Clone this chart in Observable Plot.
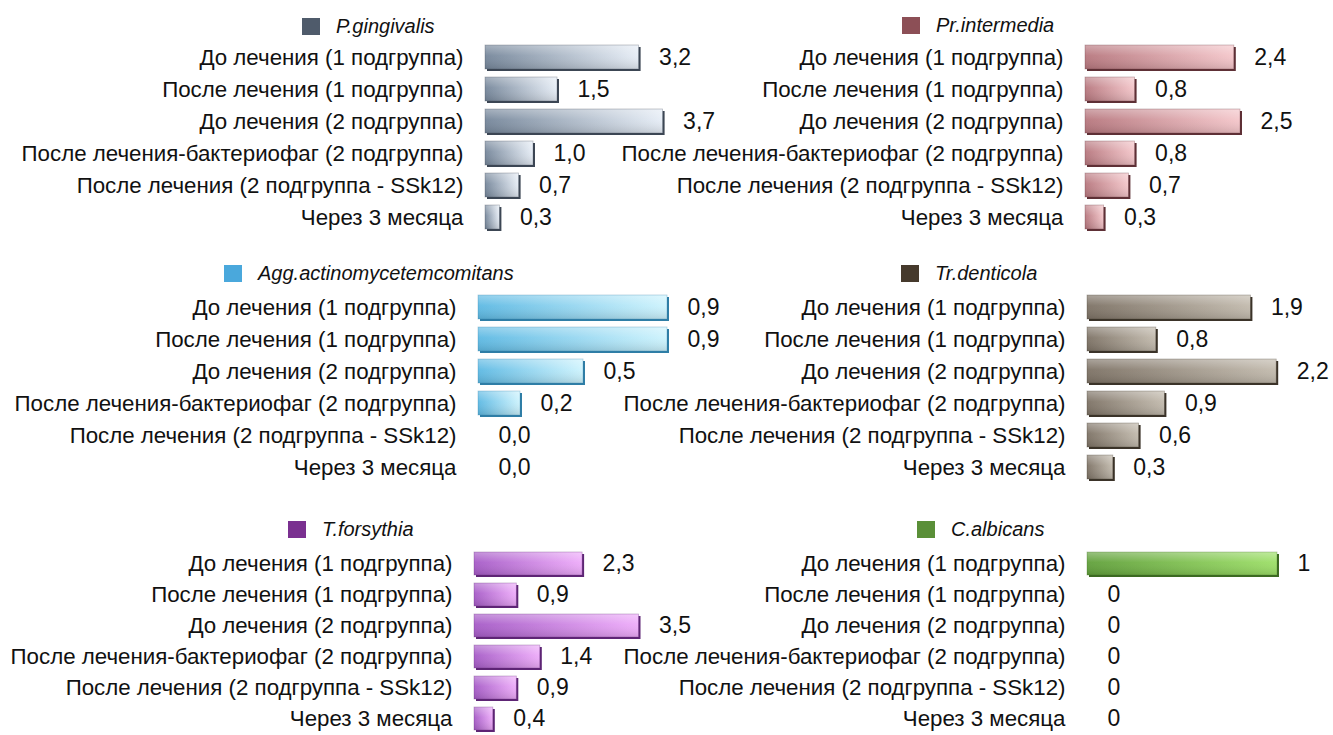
<!DOCTYPE html>
<html>
<head>
<meta charset="utf-8">
<script src="https://cdn.jsdelivr.net/npm/d3@7"></script>
<script src="https://cdn.jsdelivr.net/npm/@observablehq/plot@0.6"></script>
<style>
  html, body { margin: 0; padding: 0; background: #fff; }
  #root { position: relative; width: 1333px; height: 735px; overflow: hidden; font-family: "Liberation Sans", Arial, Helvetica, sans-serif; }
  .panel { position: absolute; width: 900px; }
  .panel svg { max-width: none !important; background: transparent; overflow: visible; }
  .legend { position: absolute; display: flex; align-items: center; font-style: italic; font-size: 20px; color: #111; white-space: nowrap; }
  .legend .sw { width: 18px; height: 17px; margin-right: 16px; }
</style>
</head>
<body>
<div id="root"></div>
<script>
// ---- data ----
const categories = [
  "До лечения (1 подгруппа)",
  "После лечения (1 подгруппа)",
  "До лечения (2 подгруппа)",
  "После лечения-бактериофаг (2 подгруппа)",
  "После лечения (2 подгруппа - SSk12)",
  "Через 3 месяца"
];
const species = ["P.gingivalis", "Pr.intermedia", "Agg.actinomycetemcomitans", "Tr.denticola", "T.forsythia", "C.albicans"];
const pGingivalis = [3.2, 1.5, 3.7, 1.0, 0.7, 0.3];
const prIntermedia = [2.4, 0.8, 2.5, 0.8, 0.7, 0.3];
const aggActinomycetemcomitans = [0.9, 0.9, 0.5, 0.2, 0.0, 0.0];
const trDenticola = [1.9, 0.8, 2.2, 0.9, 0.6, 0.3];
const tForsythia = [2.3, 0.9, 3.5, 1.4, 0.9, 0.4];
const cAlbicans = [1, 0, 0, 0, 0, 0];
const seriesValues = [pGingivalis, prIntermedia, aggActinomycetemcomitans, trDenticola, tForsythia, cAlbicans];
const decimals = [1, 1, 1, 1, 1, 0];

// ---- styling / layout (not data) ----
const palette = [
  {legend: "#4f5b6b", dark: "#75869a", light: "#e6edf6", edge: "#3c4654"},
  {legend: "#8c4f56", dark: "#b7777e", light: "#f4c6ca", edge: "#5e3036"},
  {legend: "#4aa8dc", dark: "#5db9e3", light: "#cdf3fd", edge: "#2f7ea6"},
  {legend: "#463a2c", dark: "#7d7265", light: "#c2baad", edge: "#3b3329"},
  {legend: "#7a3090", dark: "#a65bc7", light: "#eeacfa", edge: "#5e2575"},
  {legend: "#5a8f38", dark: "#61a03b", light: "#9ddf68", edge: "#3c6a22"}
];
const layout = [
  {left: 0,   top: 41,  height: 192, marginLeft: 485, xMax: 4,   plotW: 192, legend: [302, 18]},
  {left: 600, top: 41,  height: 192, marginLeft: 485, xMax: 3,   plotW: 186, legend: [902, 17]},
  {left: 0,   top: 290, height: 193, marginLeft: 478, xMax: 1,   plotW: 210, legend: [224, 265]},
  {left: 600, top: 290, height: 193, marginLeft: 487, xMax: 2.5, plotW: 215, legend: [901, 265]},
  {left: 0,   top: 546, height: 190, marginLeft: 474, xMax: 4,   plotW: 188, legend: [288, 521]},
  {left: 600, top: 546, height: 190, marginLeft: 487, xMax: 1,   plotW: 190, legend: [917, 521]}
];

const root = document.getElementById("root");
const font = "'Liberation Sans', Arial, Helvetica, sans-serif";

species.forEach((name, i) => {
  const L = layout[i], C = palette[i];
  const data = categories.map((c, j) => ({category: c, value: seriesValues[i][j]}));
  const gid = "grad" + i, hid = "hl" + i;
  const fmt = v => v.toFixed(decimals[i]).replace(".", ",");

  const defs = () => {
    const d = d3.create("svg:defs");
    const g = d.append("linearGradient").attr("id", gid).attr("x1", 0).attr("x2", 1).attr("y1", 0).attr("y2", 0);
    g.append("stop").attr("offset", "0%").attr("stop-color", C.dark);
    g.append("stop").attr("offset", "100%").attr("stop-color", C.light);
    const h = d.append("linearGradient").attr("id", hid).attr("x1", 0).attr("x2", 0).attr("y1", 0).attr("y2", 1);
    h.append("stop").attr("offset", "0%").attr("stop-color", "#fff").attr("stop-opacity", 0.35);
    h.append("stop").attr("offset", "45%").attr("stop-color", "#fff").attr("stop-opacity", 0.05);
    h.append("stop").attr("offset", "100%").attr("stop-color", "#000").attr("stop-opacity", 0.12);
    return d.node();
  };

  const nonzero = data.filter(d => d.value > 0);
  const chart = Plot.plot({
    width: L.marginLeft + L.plotW + 60,
    height: L.height,
    marginLeft: L.marginLeft,
    marginRight: 60,
    marginTop: 0,
    marginBottom: 0,
    style: {background: "transparent", overflow: "visible", fontFamily: font},
    x: {domain: [0, L.xMax], axis: null},
    y: {domain: categories, paddingInner: 0.25, paddingOuter: 0.125, axis: null, label: null},
    marks: [
      defs,
      Plot.barX(nonzero, {x: "value", y: "category", fill: C.edge, dx: 2, dy: 2}),
      Plot.barX(nonzero, {x: "value", y: "category", fill: `url(#${gid})`}),
      Plot.barX(nonzero, {x: "value", y: "category", fill: `url(#${hid})`, stroke: C.edge, strokeOpacity: 0.35, strokeWidth: 0.8}),
      Plot.axisY({tickSize: 0, tickPadding: 22, fontSize: 22.3, fill: "#111", label: null}),
      Plot.text(data, {x: "value", y: "category", text: d => fmt(d.value), dx: 20, textAnchor: "start", fontSize: 23, fill: "#111"})
    ]
  });
  const wrap = document.createElement("div");
  wrap.className = "panel";
  wrap.style.left = L.left + "px";
  wrap.style.top = L.top + "px";
  wrap.appendChild(chart);
  root.appendChild(wrap);

  const leg = document.createElement("div");
  leg.className = "legend";
  leg.style.left = L.legend[0] + "px";
  leg.style.top = (L.legend[1] - 3) + "px";
  leg.style.height = "23px";
  const sw = document.createElement("span");
  sw.className = "sw";
  sw.style.background = C.legend;
  const tx = document.createElement("span");
  tx.textContent = name;
  leg.appendChild(sw);
  leg.appendChild(tx);
  root.appendChild(leg);
});
</script>
</body>
</html>
